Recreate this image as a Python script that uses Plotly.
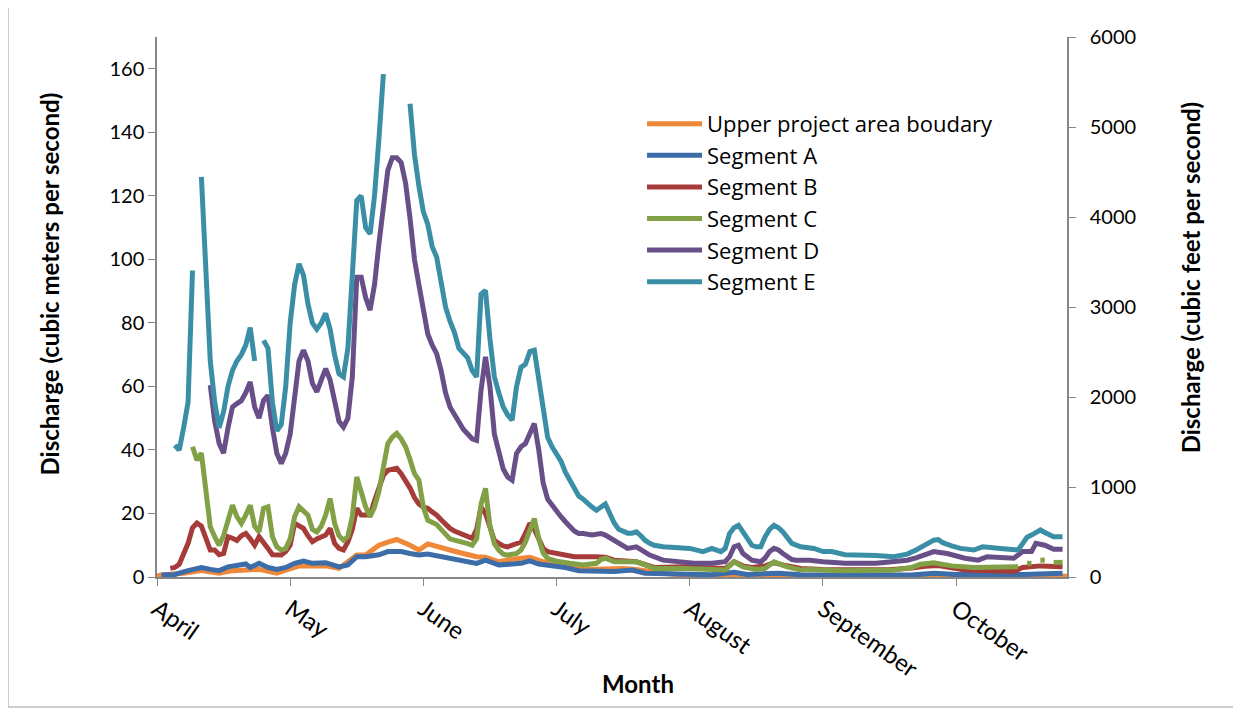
import plotly.graph_objects as go

# ---------------- data (day index counted from April 1) ----------------
month_labels = ["April", "May", "June", "July", "August", "September", "October"]
month_ticks = [0, 30, 60, 90, 120, 150, 180]

series_names = ["Upper project area boudary", "Segment A", "Segment B",
                "Segment C", "Segment D", "Segment E"]

upper_days = [0, 1, 6, 10, 14, 17, 23, 27, 32, 38, 41, 45, 47, 50, 52, 54, 57, 59, 61, 63, 66,
              69, 72, 74, 77, 80, 84, 87, 92, 96, 102, 105, 108, 114, 120, 140, 170, 204, 205]
upper_vals = [0.3, 0.6, 1.2, 2.0, 1.2, 2.0, 2.4, 1.2, 3.5, 3.5, 2.7, 6.9, 6.9, 10.0, 11.0, 11.8,
              10.0, 8.5, 10.4, 9.5, 8.5, 7.4, 6.4, 6.2, 4.8, 5.6, 6.2, 4.8, 3.8, 2.4, 2.7, 2.7,
              2.4, 1.2, 0.4, 0.3, 0.3, 0.3, 0.2]

a_days = [1, 4, 7, 10, 12, 14, 16, 18, 20, 21, 23, 25, 27, 29, 31, 33, 35, 38, 41, 43, 45, 47,
          50, 52, 55, 57, 59, 61, 64, 66, 69, 72, 74, 77, 80, 82, 84, 86, 92, 95, 103, 107, 110,
          118, 125, 130, 133, 140, 145, 160, 170, 175, 180, 195, 200, 204]
a_vals = [0.6, 0.8, 2.0, 3.0, 2.4, 2.0, 3.2, 3.5, 4.1, 3.0, 4.3, 3.0, 2.4, 3.0, 4.3, 5.0, 4.3,
          4.5, 3.2, 3.8, 6.4, 6.4, 7.0, 8.0, 8.0, 7.4, 6.9, 7.2, 6.4, 5.9, 5.3, 4.3, 5.3, 3.8,
          4.1, 4.3, 5.1, 4.1, 3.0, 2.0, 1.7, 2.2, 1.2, 0.9, 0.7, 1.5, 0.8, 1.2, 0.7, 0.6, 0.6,
          1.2, 0.8, 0.8, 1.2, 1.2]

b_days = [3, 4, 5, 6, 7, 8, 9, 10, 11, 12, 13, 14, 15, 16, 17, 18, 19, 20, 21, 22, 23, 24, 25,
          26, 27, 28, 29, 30, 31, 32, 33, 34, 35, 36, 37, 38, 39, 40, 41, 42, 43, 44, 45, 46,
          47, 48, 49, 50, 51, 52, 53, 54, 55, 56, 57, 58, 59, 60, 61, 62, 63, 64, 65, 66, 67,
          68, 69, 70, 71, 72, 73, 74, 75, 76, 77, 78, 79, 80, 81, 82, 83, 84, 85, 86, 87, 88,
          90, 94, 99, 101, 103, 108, 112, 119, 128, 130, 132, 134, 137, 139, 141, 145, 150,
          155, 165, 170, 173, 176, 179, 182, 193, 195, 199, 204]
b_vals = [2.7, 3.0, 4.0, 7.0, 10.6, 15.5, 17.0, 16.0, 11.6, 8.5, 8.5, 7.0, 7.4, 12.7, 12.2,
          11.5, 13.0, 13.7, 12.0, 10.0, 12.7, 10.5, 9.0, 7.0, 6.9, 6.9, 8.0, 10.0, 16.9, 16.0,
          15.3, 13.0, 11.1, 12.0, 12.5, 13.2, 15.3, 10.6, 9.0, 8.5, 11.0, 15.0, 21.6, 19.5,
          19.5, 19.5, 24.0, 28.5, 32.0, 33.6, 33.8, 34.2, 32.5, 30.5, 28.0, 25.0, 23.0, 22.0,
          21.6, 20.5, 19.5, 18.0, 16.5, 15.3, 14.5, 14.0, 13.5, 13.0, 12.2, 15.0, 22.0, 20.0,
          15.8, 11.5, 10.6, 9.8, 9.5, 10.0, 10.3, 11.0, 13.7, 16.9, 15.0, 12.0, 9.0, 8.0, 7.4,
          6.4, 6.4, 6.2, 5.3, 4.8, 3.0, 3.2, 2.7, 4.8, 3.5, 3.0, 3.5, 4.5, 3.8, 2.7, 2.4, 2.3,
          2.3, 2.8, 3.4, 3.6, 3.0, 2.2, 1.7, 3.0, 3.5, 3.2]

c_days = [8, 9, 10, 11, 12, 13, 14, 15, 16, 17, 18, 19, 20, 21, 22, 23, 24, 25, 26, 27, 28, 29,
          30, 31, 32, 33, 34, 35, 36, 37, 38, 39, 40, 41, 42, 43, 44, 45, 46, 47, 48, 49, 50,
          51, 52, 53, 54, 55, 56, 57, 58, 59, 60, 61, 62, 63, 64, 65, 66, 67, 68, 69, 70, 71,
          72, 73, 74, 75, 76, 77, 78, 79, 80, 81, 82, 83, 84, 85, 86, 87, 88, 90, 93, 96, 99,
          100, 101, 103, 108, 112, 119, 124, 128, 129, 130, 131, 132, 135, 137, 138, 139, 140,
          142, 145, 147, 155, 166, 170, 172, 175, 177, 179, 184, 194, 195, 196, 197, 198, 199,
          200, 201, 202, 204]
c_vals = [41.0, 36.8, 39.0, 27.0, 15.8, 12.7, 10.0, 13.0, 17.9, 22.6, 19.0, 16.9, 19.5, 22.6,
          16.0, 14.2, 21.6, 22.1, 12.7, 9.5, 8.5, 9.0, 12.0, 19.0, 22.1, 21.0, 19.5, 15.0, 14.2,
          16.0, 19.5, 24.7, 17.0, 13.0, 11.6, 12.7, 19.0, 31.5, 26.0, 22.1, 19.0, 22.0, 27.0,
          34.7, 42.0, 44.0, 45.2, 43.5, 41.0, 37.0, 32.5, 30.5, 22.0, 17.9, 17.4, 16.5, 15.0,
          13.5, 12.0, 11.6, 11.3, 11.1, 10.5, 10.0, 12.0, 23.0, 27.9, 16.0, 10.5, 8.5, 7.2, 6.9,
          7.0, 7.4, 8.5, 11.0, 14.8, 18.4, 12.0, 7.5, 5.9, 5.0, 4.3, 3.8, 4.3, 5.5, 5.9, 4.8,
          4.8, 2.7, 2.7, 2.4, 2.2, 3.5, 4.8, 4.0, 3.2, 2.4, 2.7, 3.8, 4.8, 4.2, 3.2, 2.2, 2.4,
          2.0, 2.2, 3.0, 4.0, 4.5, 4.0, 3.5, 3.0, 3.2, None, 4.3, 4.3, None, 5.3, 5.3, None,
          4.6, 4.6]

d_days = [12, 13, 14, 15, 16, 17, 18, 19, 20, 21, 22, 23, 24, 25, 26, 27, 28, 29, 30, 31, 32,
          33, 34, 35, 36, 37, 38, 39, 40, 41, 42, 43, 44, 45, 46, 47, 48, 49, 50, 51, 52, 53,
          54, 55, 56, 57, 58, 59, 60, 61, 62, 63, 64, 65, 66, 67, 68, 69, 70, 71, 72, 73, 74,
          75, 76, 77, 78, 79, 80, 81, 82, 83, 84, 85, 86, 87, 88, 89, 90, 91, 92, 93, 94, 95,
          96, 98, 100, 101, 103, 106, 108, 109, 111, 114, 118, 121, 125, 128, 129, 130, 131,
          132, 134, 136, 137, 138, 139, 140, 141, 143, 144, 147, 150, 155, 162, 169, 171, 173,
          175, 176, 178, 182, 185, 187, 193, 195, 197, 198, 200, 202, 204]
d_vals = [60.4, 49.0, 42.0, 39.0, 47.0, 53.5, 54.6, 55.5, 58.0, 61.4, 53.5, 50.0, 55.6, 57.2,
          47.0, 38.9, 35.7, 39.0, 45.0, 57.7, 68.0, 71.4, 68.0, 61.0, 58.3, 62.0, 65.6, 62.0,
          55.0, 49.0, 47.2, 50.0, 63.0, 94.4, 94.4, 88.0, 84.0, 92.0, 105.0, 118.0, 128.0,
          132.0, 132.0, 130.5, 124.0, 113.0, 100.0, 92.0, 84.0, 76.5, 73.0, 70.3, 65.0, 58.0,
          53.5, 51.0, 48.5, 46.5, 45.0, 43.5, 43.0, 58.8, 69.3, 60.0, 45.0, 39.0, 34.0, 31.5,
          30.5, 38.9, 41.0, 42.0, 45.2, 48.3, 40.0, 29.5, 24.5, 22.5, 20.5, 19.0, 17.4, 15.8,
          14.5, 13.7, 13.7, 13.2, 13.7, 13.2, 11.6, 9.0, 9.5, 8.5, 6.9, 5.3, 4.8, 4.3, 4.3, 4.8,
          6.4, 9.5, 10.0, 7.4, 5.3, 4.8, 6.0, 8.0, 9.0, 8.5, 7.4, 5.5, 5.3, 5.3, 4.8, 4.3, 4.3,
          5.3, 6.0, 7.0, 8.0, 7.8, 7.4, 5.9, 5.3, 6.4, 5.9, 8.0, 8.0, 10.6, 10.0, 8.7, 8.7]

e_days = [4, 5, 6, 7, 8, 9, 10, 11, 12, 13, 14, 15, 16, 17, 18, 19, 20, 21, 22, 23, 24, 25, 26,
          27, 28, 29, 30, 31, 32, 33, 34, 35, 36, 37, 38, 39, 40, 41, 42, 43, 44, 45, 46, 47,
          48, 49, 50, 51, 52, 57, 58, 59, 60, 61, 62, 63, 64, 65, 66, 67, 68, 69, 70, 71, 72,
          73, 74, 75, 76, 77, 78, 79, 80, 81, 82, 83, 84, 85, 86, 87, 88, 89, 90, 91, 92, 93,
          94, 95, 96, 97, 98, 99, 100, 101, 102, 103, 104, 105, 106, 107, 108, 109, 110, 111,
          112, 114, 118, 120, 123, 125, 127, 128, 129, 130, 131, 132, 133, 134, 135, 136, 137,
          138, 139, 140, 141, 142, 143, 145, 148, 150, 152, 155, 158, 162, 166, 169, 171, 173,
          175, 176, 177, 179, 181, 184, 186, 190, 194, 195, 196, 197, 199, 200, 202, 204]
e_vals = [41.5, 40.0, 47.0, 55.0, 96.5, None, 126.0, 97.0, 68.0, 55.0, 47.0, 52.0, 60.0, 65.0,
          68.0, 70.0, 73.0, 78.5, 68.0, None, 74.5, 72.0, 55.0, 46.0, 48.0, 60.0, 80.0, 92.0,
          98.6, 95.0, 86.0, 80.0, 78.0, 80.0, 83.0, 78.0, 70.0, 64.0, 63.0, 72.0, 95.0, 118.5,
          120.0, 110.0, 108.0, 120.0, 138.0, 158.3, None, 149.0, 133.0, 123.0, 115.0, 111.0,
          104.0, 100.7, 92.0, 85.0, 80.5, 77.0, 72.0, 70.5, 69.0, 65.0, 63.0, 89.0, 90.2, 75.0,
          63.0, 58.0, 53.5, 51.0, 49.4, 60.0, 66.0, 67.0, 71.0, 71.4, 62.0, 52.0, 44.0, 41.0,
          39.0, 36.5, 33.0, 30.5, 27.5, 25.5, 24.5, 23.0, 22.0, 21.0, 22.0, 23.0, 20.0, 17.0,
          15.0, 14.5, 13.8, 13.8, 14.2, 13.0, 11.5, 10.6, 10.0, 9.5, 9.0, 9.0, 8.0, 9.0, 8.0,
          9.0, 13.7, 15.5, 16.3, 14.0, 11.6, 10.0, 9.5, 9.5, 12.7, 15.0, 16.3, 15.5, 14.2, 12.5,
          10.6, 9.5, 9.0, 8.0, 8.0, 7.0, 7.0, 6.8, 6.4, 7.2, 8.5, 10.0, 11.6, 11.8, 10.8, 9.8,
          9.0, 8.5, 9.5, 9.0, 8.5, 10.5, 12.5, 13.2, 14.8, 14.0, 12.7, 12.7]

series_days = [upper_days, a_days, b_days, c_days, d_days, e_days]
series_vals = [upper_vals, a_vals, b_vals, c_vals, d_vals, e_vals]
colors = ["#F0883A", "#3C6DA8", "#A53C39", "#82A046", "#684F88", "#3A8FA6"]

FONT = "Lato"

fig = go.Figure()
for name, dx, vy, col in zip(series_names, series_days, series_vals, colors):
    fig.add_trace(go.Scatter(
        x=dx, y=vy, name=name, mode="lines",
        line=dict(color=col, width=5),
        connectgaps=False,
    ))

# secondary axis (cubic feet per second), same physical scale
fig.add_trace(go.Scatter(x=[None], y=[None], yaxis="y2", showlegend=False,
                         hoverinfo="skip", mode="lines"))

axis_col = "#868686"
fig.update_layout(
    width=1241, height=715,
    margin=dict(l=149, r=182, t=29, b=146),
    paper_bgcolor="white", plot_bgcolor="white",
    font=dict(family=FONT, size=20, color="black"),
    showlegend=True,
    legend=dict(x=0.533, y=0.878, xanchor="left", yanchor="top",
                font=dict(family="Open Sans", size=22, color="black"),
                itemwidth=55,
                bgcolor="rgba(0,0,0,0)"),
    xaxis=dict(range=[0, 205], tickvals=month_ticks, ticktext=month_labels,
               tickangle=35, ticks="outside", ticklen=7, tickcolor=axis_col,
               showline=True, linecolor=axis_col, linewidth=1.5,
               showgrid=False, zeroline=False,
               tickfont=dict(family=FONT, size=24)),
    yaxis=dict(range=[0, 170], tickvals=list(range(0, 161, 20)),
               ticks="outside", ticklen=7, tickcolor=axis_col,
               showline=True, linecolor=axis_col, linewidth=1.5,
               showgrid=False, zeroline=False,
               tickfont=dict(family=FONT, size=20)),
    yaxis2=dict(range=[0, 6000], tickvals=list(range(0, 6001, 1000)),
                overlaying="y", side="right",
                ticks="outside", ticklen=7, tickcolor=axis_col,
                showline=True, linecolor=axis_col, linewidth=1.5,
                showgrid=False, zeroline=False, ticklabelstandoff=10,
                tickfont=dict(family=FONT, size=20)),
)

title_font = dict(family=FONT, size=24, color="black", weight="bold")
fig.add_annotation(text="Discharge (cubic meters per second)", xref="paper", yref="paper",
                   x=-0.1176, y=0.5435, textangle=-90, showarrow=False,
                   xanchor="center", yanchor="middle", font=title_font)
fig.add_annotation(text="Discharge (cubic feet per second)", xref="paper", yref="paper",
                   x=1.1352, y=0.555, textangle=-90, showarrow=False,
                   xanchor="center", yanchor="middle", font=title_font)
fig.add_annotation(text="Month", xref="paper", yref="paper",
                   x=0.5286, y=-0.198, showarrow=False,
                   xanchor="center", yanchor="middle", font=title_font)

# outer chart-area border
fig.add_shape(type="rect", xref="paper", yref="paper",
              x0=-0.1637, y0=-0.2407, x1=1.2, y1=1.08,
              line=dict(color="#BFBFBF", width=1.5), fillcolor="rgba(0,0,0,0)", layer="below")

fig.write_html("out.html")
